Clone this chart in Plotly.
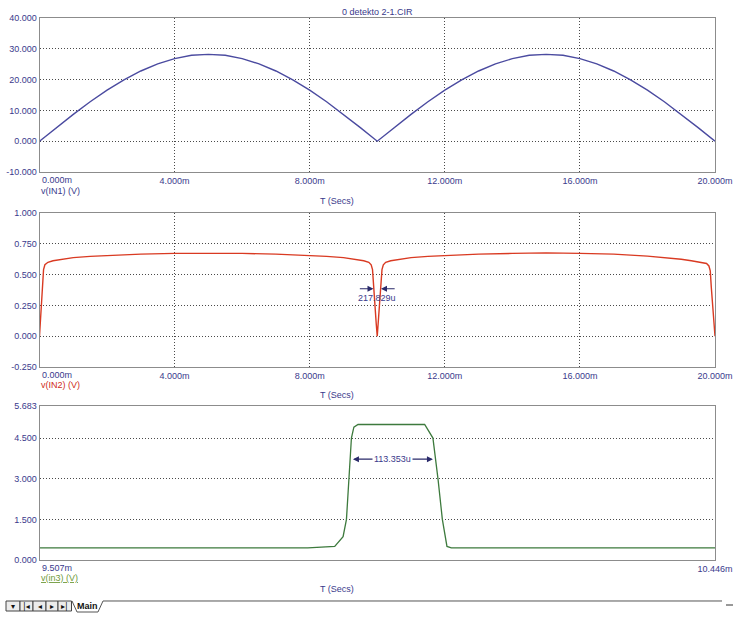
import plotly.graph_objects as go

# ---------------- data ----------------
# Panel 1: v(IN1) (V) vs time in ms
t1 = [0.0, 0.5, 1.0, 1.5, 2.0, 2.5, 3.0, 3.5, 4.0, 4.5, 5.0, 5.5, 6.0, 6.5, 7.0, 7.5, 8.0, 8.5, 9.0, 9.5, 10.0,
      10.5, 11.0, 11.5, 12.0, 12.5, 13.0, 13.5, 14.0, 14.5, 15.0, 15.5, 16.0, 16.5, 17.0, 17.5, 18.0, 18.5, 19.0, 19.5, 20.0]
v1 = [0.0, 4.4, 8.7, 12.8, 16.6, 19.9, 22.8, 25.1, 26.8, 27.9, 28.2, 27.9, 26.8, 25.1, 22.8, 19.9, 16.6, 12.8, 8.7, 4.4, 0.0,
      4.4, 8.7, 12.8, 16.6, 19.9, 22.8, 25.1, 26.8, 27.9, 28.2, 27.9, 26.8, 25.1, 22.8, 19.9, 16.6, 12.8, 8.7, 4.4, 0.0]

# Panel 2: v(IN2) (V) vs time in ms
t2 = [0, 0.03, 0.06, 0.09, 0.12, 0.16, 0.25, 0.4, 0.7, 1.0, 1.5, 2.0, 3.0, 4.0, 5.0, 6.0, 7.0, 8.0, 8.5, 9.0,
      9.3, 9.6, 9.75, 9.82, 9.86, 9.89, 9.93, 9.97, 10.0, 10.03, 10.07, 10.11, 10.14, 10.18, 10.25, 10.4, 10.7,
      11.0, 11.5, 12.0, 13.0, 14.0, 15.0, 16.0, 17.0, 18.0, 18.5, 19.0, 19.3, 19.6, 19.75, 19.82, 19.86, 19.89,
      19.93, 19.97, 20.0]
v2 = [0.0, 0.16, 0.33, 0.47, 0.54, 0.58, 0.6, 0.612, 0.628, 0.638, 0.648, 0.656, 0.666, 0.672, 0.674, 0.672,
      0.666, 0.656, 0.648, 0.638, 0.628, 0.612, 0.6, 0.58, 0.54, 0.4, 0.25, 0.1, 0.0, 0.1, 0.25, 0.4, 0.54, 0.58,
      0.6, 0.612, 0.628, 0.638, 0.648, 0.656, 0.666, 0.672, 0.676, 0.672, 0.666, 0.65, 0.64, 0.625, 0.612, 0.6,
      0.59, 0.57, 0.53, 0.4, 0.25, 0.1, 0.0]

# Panel 3: v(in3) (V) vs time in ms (zoomed window)
t3 = [9.507, 9.880, 9.9174, 9.9290, 9.9337, 9.9373, 9.9406, 9.9440, 9.9498, 10.0424, 10.0539, 10.0609,
      10.0670, 10.0734, 10.0795, 10.446]
v3 = [0.45, 0.45, 0.50, 0.86, 1.50, 3.00, 4.50, 4.90, 5.00, 5.00, 4.50, 3.00, 1.50, 0.50, 0.45, 0.45]

assert len(t1) == len(v1) and len(t2) == len(v2) and len(t3) == len(v3)

# tick labels
x12_ticks = [4, 8, 12, 16, 20]
x12_text = ["4.000m", "8.000m", "12.000m", "16.000m", "20.000m"]
y1_ticks = [-10, 0, 10, 20, 30, 40]
y1_text = ["-10.000", "0.000", "10.000", "20.000", "30.000", "40.000"]
y2_ticks = [-0.25, 0, 0.25, 0.5, 0.75, 1.0]
y2_text = ["-0.250", "0.000", "0.250", "0.500", "0.750", "1.000"]
y3_ticks = [0, 1.5, 3.0, 4.5, 5.683]
y3_text = ["0.000", "1.500", "3.000", "4.500", "5.683"]
x3_ticks = [10.446]
x3_text = ["10.446m"]

# cursor measurements
dip_left, dip_right, dip_level = 9.89, 10.11, 0.385
pulse_left, pulse_right, pulse_level = 9.9406, 10.0539, 3.72

# ---------------- styling ----------------
W, H = 740, 619
FONT = "Liberation Sans, Arial, sans-serif"
TXT = "#3a3a8c"
XD = [39.5 / W, 715 / W]


def ydom(top, bottom):
    return [1 - bottom / H, 1 - top / H]


D1 = ydom(18, 172)
D2 = ydom(213, 367)
D3 = ydom(406, 560)

axis_common = dict(
    showline=True, mirror=True, linecolor="#8c8c8c", linewidth=1,
    showgrid=True, gridcolor="#4a4a4a", griddash="1px,2px", gridwidth=1,
    zeroline=False, ticks="", tickfont=dict(family=FONT, size=9, color=TXT),
    fixedrange=True, automargin=False,
)

fig = go.Figure()
fig.add_trace(go.Scatter(x=t1, y=v1, mode="lines", line=dict(color="#4b4ba0", width=1.4),
                         xaxis="x", yaxis="y", showlegend=False))
fig.add_trace(go.Scatter(x=t2, y=v2, mode="lines", line=dict(color="#d93a22", width=1.4),
                         xaxis="x2", yaxis="y2", showlegend=False))
fig.add_trace(go.Scatter(x=t3, y=v3, mode="lines", line=dict(color="#3d7a3d", width=1.3),
                         xaxis="x3", yaxis="y3", showlegend=False))

fig.update_layout(
    width=W, height=H, autosize=False,
    margin=dict(l=0, r=0, t=0, b=0, pad=0),
    paper_bgcolor="white", plot_bgcolor="white",
    xaxis=dict(axis_common, domain=XD, anchor="y", range=[0, 20], tickvals=x12_ticks, ticktext=x12_text),
    yaxis=dict(axis_common, domain=D1, anchor="x", range=[-10, 40], tickvals=y1_ticks, ticktext=y1_text),
    xaxis2=dict(axis_common, domain=XD, anchor="y2", range=[0, 20], tickvals=x12_ticks, ticktext=x12_text),
    yaxis2=dict(axis_common, domain=D2, anchor="x2", range=[-0.25, 1.0], tickvals=y2_ticks, ticktext=y2_text),
    xaxis3=dict(axis_common, domain=XD, anchor="y3", range=[9.507, 10.446], tickvals=x3_ticks,
                ticktext=x3_text, showgrid=False),
    yaxis3=dict(axis_common, domain=D3, anchor="x3", range=[0, 5.683], tickvals=y3_ticks, ticktext=y3_text),
)

ann = []


def ptext(text, x, y, color=TXT, size=9, xanchor="center", yanchor="middle", family=FONT):
    ann.append(dict(text=text, x=x / W, y=1 - y / H, xref="paper", yref="paper", showarrow=False,
                    xanchor=xanchor, yanchor=yanchor, font=dict(family=family, size=size, color=color)))


# title
ptext("0 detekto 2-1.CIR", 377, 12)

# first x tick labels (left-aligned at the frame edge)
for xr, x0, dom in (("x", 0, D1), ("x2", 0, D2), ("x3", 9.507, D3)):
    ann.append(dict(text="0.000m" if xr != "x3" else "9.507m", x=x0, xref=xr, y=dom[0], yref="paper",
                    xanchor="left", yanchor="top", yshift=-1, showarrow=False,
                    font=dict(family=FONT, size=9, color=TXT)))

# trace labels and axis titles
ptext("v(IN1) (V)", 39, 191, xanchor="left")
ptext("T (Secs)", 337, 201)
ptext("v(IN2) (V)", 39, 385, color="#d02a1a", xanchor="left")
ptext("T (Secs)", 337, 395)
ptext("<u>v(in3) (V)</u>", 39, 578, color="#6f9a3a", xanchor="left")
ptext("T (Secs)", 337, 589)

# cursor arrows, panel 2
for head, tail in ((dip_left, dip_left - 0.45), (dip_right, dip_right + 0.45)):
    ann.append(dict(x=head, y=dip_level, xref="x2", yref="y2", ax=tail, ay=dip_level,
                    axref="x2", ayref="y2", text="", showarrow=True, arrowhead=2, arrowsize=1,
                    arrowwidth=1.2, arrowcolor="#2a2a6a"))
ann.append(dict(x=(dip_left + dip_right) / 2, y=dip_level, xref="x2", yref="y2", yshift=-9,
                text="217.829u", showarrow=False, font=dict(family=FONT, size=9, color=TXT)))

# cursor arrow, panel 3
ann.append(dict(x=pulse_right, y=pulse_level, xref="x3", yref="y3", ax=pulse_left, ay=pulse_level,
                axref="x3", ayref="y3", text="", showarrow=True, arrowhead=2, arrowside="end+start",
                arrowsize=1, arrowwidth=1.2, arrowcolor="#2a2a6a"))
ann.append(dict(x=(pulse_left + pulse_right) / 2, y=pulse_level, xref="x3", yref="y3",
                text="113.353u", showarrow=False, bgcolor="white", borderpad=1,
                font=dict(family=FONT, size=9, color=TXT)))

# bottom tab bar
shapes = []
btn_edges = [6, 20, 33, 46, 58, 71.5]
glyphs = ["▾", "|◂", "◂", "▸", "▸|"]
for i, g in enumerate(glyphs):
    x0, x1 = btn_edges[i], btn_edges[i + 1]
    shapes.append(dict(type="rect", xref="paper", yref="paper", x0=x0 / W, x1=x1 / W,
                       y0=1 - 611 / H, y1=1 - 601 / H, line=dict(color="#444", width=1),
                       fillcolor="#ececec"))
    ptext(g, (x0 + x1) / 2, 606, color="#111", size=8, family="DejaVu Sans")
tab_path = "M {:.4f},{:.4f} L {:.4f},{:.4f} L {:.4f},{:.4f} L {:.4f},{:.4f} L {:.4f},{:.4f}".format(
    72 / W, 1 - 601 / H, 77 / W, 1 - 612 / H, 98 / W, 1 - 612 / H, 103 / W, 1 - 601 / H, 722 / W, 1 - 601 / H)
shapes.append(dict(type="path", xref="paper", yref="paper", path=tab_path, line=dict(color="#555", width=1)))
shapes.append(dict(type="line", xref="paper", yref="paper", x0=726 / W, x1=733 / W, y0=1 - 605 / H,
                   y1=1 - 605 / H, line=dict(color="#333", width=1)))
ptext("<b>Main</b>", 87.5, 606, color="#111", size=9)

fig.update_layout(annotations=ann, shapes=shapes)
fig.write_html(
    "out.html",
    config={"responsive": False, "displayModeBar": False},
    post_script="document.body.style.margin='0';document.body.style.overflow='hidden';",
)
